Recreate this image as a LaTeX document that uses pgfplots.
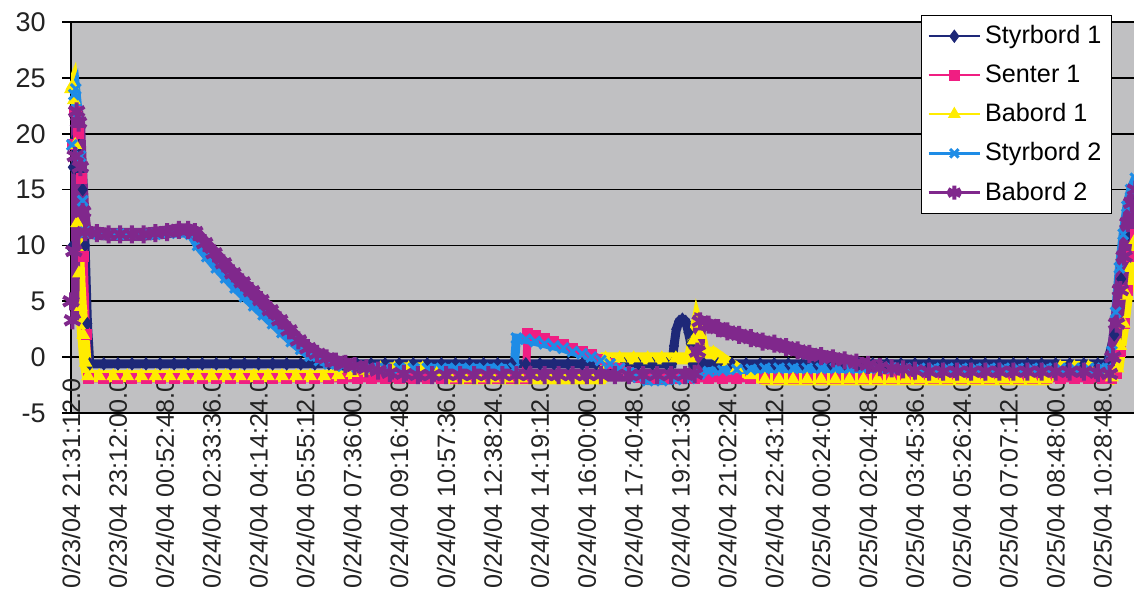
\documentclass[border=0pt]{standalone}
\usepackage{fontspec}
\setmainfont{Liberation Sans}
\usepackage{pgfplots}
\pgfplotsset{compat=1.18}
\definecolor{plotgray}{RGB}{192,192,194}
\definecolor{sbA}{RGB}{30,40,120}
\definecolor{senA}{RGB}{240,30,130}
\definecolor{bbA}{RGB}{255,236,0}
\definecolor{sbB}{RGB}{30,140,230}
\definecolor{bbB}{RGB}{128,40,140}
\definecolor{txt}{RGB}{35,35,35}
\begin{document}
\begin{tikzpicture}[x=1pt,y=1pt]
\useasboundingbox (0,0) rectangle (567,305.5);
\clip (0,0) rectangle (567,305.5);
\begin{axis}[
  at={(35.5pt,99pt)}, anchor=south west,
  scale only axis, width=534.5pt, height=195.5pt,
  xmin=0, xmax=22.8, ymin=-5, ymax=30,
  axis background/.style={fill=plotgray},
  axis x line*=bottom, axis y line*=left,
  axis line style={black, line width=0.8pt},
  ymajorgrids, major grid style={black, line width=0.8pt},
  ytick={-5,0,5,10,15,20,25,30},
  xtick={0,1,...,22},
  xticklabels={0/23/04 21:31:12.0,0/23/04 23:12:00.0,0/24/04 00:52:48.0,0/24/04 02:33:36.0,0/24/04 04:14:24.0,0/24/04 05:55:12.0,0/24/04 07:36:00.0,0/24/04 09:16:48.0,0/24/04 10:57:36.0,0/24/04 12:38:24.0,0/24/04 14:19:12.0,0/24/04 16:00:00.0,0/24/04 17:40:48.0,0/24/04 19:21:36.0,0/24/04 21:02:24.0,0/24/04 22:43:12.0,0/25/04 00:24:00.0,0/25/04 02:04:48.0,0/25/04 03:45:36.0,0/25/04 05:26:24.0,0/25/04 07:07:12.0,0/25/04 08:48:00.0,0/25/04 10:28:48.0},
  xtick style={draw=none},
  ytick style={black, line width=0.8pt},
  tick align=outside, major tick length=4.5pt,
  /pgf/number format/assume math mode=true,
  yticklabel style={font=\fontsize{13.5}{16}\selectfont, text=txt, inner sep=0pt, xshift=-8pt},
  xticklabel style={font=\fontsize{12.6}{15}\selectfont, text=txt, rotate=90, anchor=east, inner sep=0pt, xshift=22pt},
  legend style={at={(0.9738,1.0179)}, anchor=north east, draw=black, line width=0.6pt, fill=white,
    font=\fontsize{12.6}{14}\selectfont, inner xsep=3pt, inner ysep=3pt, row sep=5pt},
  legend cell align=left,
  legend image code/.code={\draw[mark repeat=2,mark phase=2] plot coordinates {(0cm,0cm) (0.45cm,0cm) (0.9cm,0cm)};},
]
% Styrbord 1
\addplot[color=sbA, line width=4.5pt, mark=diamond*, mark size=3pt, mark options={line width=0.5pt},
  legend image post style={line width=1.2pt, mark size=3pt}] coordinates {
(0.00,9.8)(0.04,17)(0.08,19.5)(0.12,18.5)(0.18,16.5)(0.25,15)(0.30,10)(0.35,3)(0.40,-0.6)
(0.7,-0.6)(1.0,-0.6)(1.3,-0.6)(1.6,-0.6)(1.9,-0.6)(2.2,-0.6)(2.5,-0.6)(2.8,-0.6)(3.1,-0.6)(3.4,-0.6)(3.7,-0.6)(4.0,-0.6)(4.3,-0.6)(4.6,-0.6)(4.9,-0.6)(5.2,-0.6)(5.5,-0.6)(5.8,-0.6)(6.1,-0.6)(6.4,-0.6)(6.7,-0.6)(7.0,-0.6)(7.3,-0.6)(7.6,-0.6)(7.9,-0.6)(8.2,-0.6)(8.5,-0.6)(8.8,-0.6)(9.1,-0.6)(9.4,-0.6)(9.7,-0.6)(10.0,-0.6)(10.3,-0.6)(10.6,-0.6)(10.9,-0.6)(11.2,-0.6)(11.5,-0.6)(11.8,-0.6)(12.1,-0.6)(12.4,-0.6)(12.7,-0.6)(12.82,-0.6)
(12.86,1.0)(12.91,2.5)(12.97,3.2)(13.04,3.4)(13.11,3.2)(13.17,2.2)(13.22,1.2)(13.26,-0.6)
(13.5,-0.6)(13.8,-0.6)(14.1,-0.6)(14.4,-0.6)(14.7,-0.6)(15.0,-0.6)(15.3,-0.6)(15.6,-0.6)(15.9,-0.6)(16.2,-0.6)(16.5,-0.6)(16.8,-0.6)(17.1,-0.6)(17.4,-0.6)(17.7,-0.6)(18.0,-0.6)(18.3,-0.6)(18.6,-0.6)(18.9,-0.6)(19.2,-0.6)(19.5,-0.6)(19.8,-0.6)(20.1,-0.6)(20.4,-0.6)(20.7,-0.6)(21.0,-0.6)(21.3,-0.6)(21.6,-0.6)(21.9,-0.6)(22.1,-0.6)
(22.25,2)(22.4,7)(22.55,11)(22.7,14)
};
\addlegendentry{Styrbord 1}
% Senter 1
\addplot[color=senA, line width=4pt, mark=square*, mark size=2.5pt, mark options={line width=0.5pt},
  legend image post style={line width=1.2pt, mark size=2.5pt}] coordinates {
(0.04,19)(0.08,22)(0.12,22)(0.17,20)(0.22,16)(0.27,9)(0.32,2)(0.37,-1.9)
(0.7,-1.9)(1.0,-1.9)(1.3,-1.9)(1.6,-1.9)(1.9,-1.9)(2.2,-1.9)(2.5,-1.9)(2.8,-1.9)(3.1,-1.9)(3.4,-1.9)(3.7,-1.9)(4.0,-1.9)(4.3,-1.9)(4.6,-1.9)(4.9,-1.9)(5.2,-1.9)(5.5,-1.9)(5.8,-1.9)(6.1,-1.9)(6.4,-1.9)(6.7,-1.9)(7.0,-1.9)(7.3,-1.9)(7.6,-1.9)(7.9,-1.9)(8.2,-1.9)(8.5,-1.9)(8.8,-1.9)(9.1,-1.9)(9.4,-1.9)(9.7,-1.9)
(9.74,2.1)(9.9,1.9)(10.1,1.7)(10.3,1.4)(10.5,1.1)(10.7,0.8)(10.9,0.5)(11.1,0.2)(11.3,-0.2)(11.5,-0.6)(11.7,-1.0)(11.9,-1.4)(12.1,-1.8)
(12.4,-1.9)(12.7,-1.9)(13.0,-1.9)(13.3,-1.9)(13.6,-1.9)(13.9,-1.9)(14.2,-1.9)(14.5,-1.9)(14.8,-1.9)(15.1,-1.9)(15.4,-1.9)(15.7,-1.9)(16.0,-1.9)(16.3,-1.9)(16.6,-1.9)(16.9,-1.9)(17.2,-1.9)(17.5,-1.9)(17.8,-1.9)(18.1,-1.9)(18.4,-1.9)(18.7,-1.9)(19.0,-1.9)(19.3,-1.9)(19.6,-1.9)(19.9,-1.9)(20.2,-1.9)(20.5,-1.9)(20.8,-1.9)(21.1,-1.9)(21.4,-1.9)(21.7,-1.9)(22.0,-1.9)(22.2,-1.9)
(22.3,-1.5)(22.38,0.5)(22.46,3)(22.54,6)(22.62,9)(22.7,11)
};
\addlegendentry{Senter 1}
% Babord 1
\addplot[color=bbA, line width=6pt, mark=triangle*, mark size=3.5pt, mark options={line width=0.5pt},
  legend image post style={line width=1.2pt, mark size=3.2pt}] coordinates {
(0.00,24)(0.03,24.3)(0.06,23)(0.09,19)(0.13,12)(0.17,7.5)(0.21,4.5)(0.26,2.0)(0.31,-0.5)(0.36,-1.7)
(0.6,-1.7)(0.9,-1.7)(1.2,-1.7)(1.5,-1.7)(1.8,-1.7)(2.1,-1.7)(2.4,-1.7)(2.7,-1.7)(3.0,-1.7)(3.3,-1.7)(3.6,-1.7)(3.9,-1.7)(4.2,-1.7)(4.5,-1.7)(4.8,-1.7)(5.1,-1.7)(5.4,-1.7)
(5.7,-1.6)(6.0,-1.4)(6.3,-1.2)(6.6,-1.0)(6.9,-1.0)(7.2,-1.0)(7.5,-1.0)(7.8,-1.5)
(8.1,-1.9)(8.4,-1.9)(8.7,-1.9)(9.0,-1.9)(9.3,-1.9)(9.6,-1.9)(9.9,-1.9)(10.2,-1.9)(10.5,-1.9)(10.8,-1.9)(11.1,-1.9)(11.3,-1.9)
(11.4,-0.1)(11.7,-0.1)(12.0,-0.1)(12.3,-0.1)(12.6,-0.1)(12.9,-0.1)(13.2,-0.1)
(13.28,1.5)(13.35,3.0)(13.42,2.0)(13.5,0.4)(13.7,0.4)(13.9,-0.2)(14.2,-1.0)(14.5,-1.6)(14.8,-2.0)
(15.1,-2.0)(15.4,-2.0)(15.7,-2.0)(16.0,-2.0)(16.3,-2.0)(16.6,-2.0)(16.9,-2.0)(17.2,-2.0)(17.5,-2.0)(17.8,-2.0)(18.1,-2.0)(18.4,-2.0)(18.7,-2.0)(19.0,-2.0)(19.3,-2.0)(19.6,-2.0)(19.9,-2.0)(20.2,-2.0)(20.5,-2.0)(20.8,-2.0)
(21.1,-0.9)(21.4,-0.9)(21.7,-0.9)(22.0,-1.3)(22.2,-1.8)(22.32,-1.0)(22.38,1)(22.45,3)(22.52,5.5)(22.6,8)(22.7,10.5)
};
\addlegendentry{Babord 1}
% Styrbord 2
\addplot[color=sbB, line width=4.5pt, mark=x, mark size=3.5pt, mark options={line width=1.5pt},
  legend image post style={line width=1.2pt, mark size=3pt}] coordinates {
(0.02,19)(0.06,23.5)(0.10,24)(0.15,22)(0.20,18)(0.25,14)(0.30,11.2)(0.6,11.0)(0.9,11.0)(1.2,11.0)(1.5,11.0)(1.8,11.0)(2.1,11.1)(2.4,11.1)(2.55,11.0)
(2.7,10.0)(2.9,9.0)(3.1,8.0)(3.3,7.1)(3.5,6.2)(3.7,5.4)(3.9,4.6)(4.1,3.8)(4.3,3.0)(4.5,2.2)(4.7,1.4)(4.9,0.7)(5.1,0.1)(5.3,-0.3)(5.5,-0.6)(5.8,-0.8)(6.1,-0.9)
(6.4,-1.0)(6.7,-1.0)(7.0,-1.0)(7.3,-1.0)(7.6,-1.0)(7.9,-1.0)(8.2,-1.0)(8.5,-1.0)(8.8,-1.0)(9.1,-1.0)(9.45,-1.0)
(9.5,1.7)(9.7,1.6)(9.9,1.4)(10.1,1.2)(10.3,1.0)(10.5,0.8)(10.7,0.5)(10.9,0.3)(11.1,0.0)(11.3,-0.3)(11.5,-0.6)(11.7,-1.0)(11.9,-1.4)(12.1,-1.8)(12.3,-2.1)(12.6,-2.1)(12.9,-2.0)(13.2,-1.9)(13.4,-1.5)
(13.6,-1.3)(13.9,-1.2)(14.2,-1.1)(14.5,-1.1)(14.8,-1.0)(15.1,-1.0)(15.4,-1.0)(15.7,-1.0)(16.0,-1.0)(16.3,-1.0)(16.6,-1.0)(16.9,-1.0)(17.2,-1.0)(17.5,-1.0)(17.8,-1.0)(18.1,-1.0)(18.4,-1.0)(18.7,-1.0)(19.0,-1.0)(19.3,-1.0)(19.6,-1.0)(19.9,-1.0)(20.2,-1.0)(20.5,-1.0)(20.8,-1.0)(21.1,-1.0)(21.4,-1.0)(21.7,-1.0)(22.0,-1.0)(22.1,-1.0)
(22.2,0.5)(22.28,4)(22.36,8)(22.44,11)(22.52,13.5)(22.6,15)(22.7,16)
};
\addlegendentry{Styrbord 2}
% Babord 2
\addplot[color=bbB, line width=6.5pt, mark=asterisk, mark size=4.5pt, mark options={line width=2pt},
  legend image post style={line width=1.2pt, mark size=3.5pt}] coordinates {
(0.00,5.0)(0.03,3.3)(0.06,9.5)(0.09,18)(0.12,22)(0.16,21)(0.20,17)(0.25,13)(0.30,11.2)
(0.55,11.1)(0.80,11.0)(1.05,11.0)(1.30,11.0)(1.55,11.0)(1.80,11.1)(2.05,11.2)(2.30,11.4)(2.50,11.4)(2.64,11.2)
(2.85,10.2)(3.05,9.3)(3.25,8.4)(3.45,7.5)(3.65,6.7)(3.85,5.9)(4.05,5.1)(4.25,4.2)(4.45,3.3)(4.65,2.4)(4.85,1.5)(5.05,0.8)(5.25,0.3)(5.45,-0.1)(5.65,-0.4)(5.85,-0.6)(6.05,-0.8)(6.3,-1.0)(6.55,-1.2)(6.8,-1.4)(7.1,-1.5)
(7.4,-1.6)(7.7,-1.6)(8.0,-1.6)(8.3,-1.6)(8.6,-1.6)(8.9,-1.6)(9.2,-1.6)(9.5,-1.6)(9.8,-1.6)(10.1,-1.6)(10.4,-1.6)(10.7,-1.6)(11.0,-1.6)(11.3,-1.6)(11.6,-1.6)(11.9,-1.6)(12.2,-1.6)(12.5,-1.6)(12.8,-1.6)(13.1,-1.6)(13.3,-1.5)
(13.36,0.5)(13.42,3.2)(13.6,2.9)(13.8,2.6)(14.0,2.3)(14.25,2.0)(14.5,1.7)(14.75,1.4)(15.0,1.2)(15.25,0.9)(15.5,0.6)(15.75,0.3)(16.0,0.1)(16.25,-0.1)(16.5,-0.3)(16.75,-0.5)(17.0,-0.7)(17.25,-0.9)(17.5,-1.0)(17.75,-1.1)(18.0,-1.2)
(18.3,-1.3)(18.6,-1.3)(18.9,-1.3)(19.2,-1.3)(19.5,-1.3)(19.8,-1.3)(20.1,-1.3)(20.4,-1.3)(20.7,-1.3)(21.0,-1.3)(21.3,-1.3)(21.6,-1.3)(21.9,-1.4)(22.15,-1.5)
(22.22,0)(22.3,3)(22.38,6)(22.46,9)(22.54,12)(22.62,13.8)(22.7,15)
};
\addlegendentry{Babord 2}
\end{axis}
\end{tikzpicture}
\end{document}
